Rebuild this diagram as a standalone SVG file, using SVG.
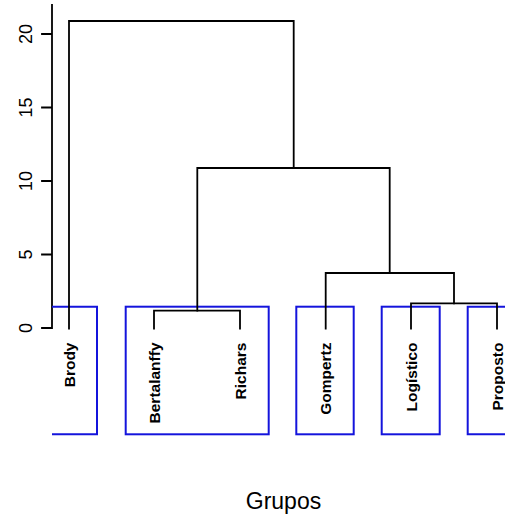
<svg xmlns="http://www.w3.org/2000/svg" width="505" height="517" viewBox="0 0 505 517">
<style>
.ln{stroke:#000;stroke-width:1.8;fill:none;stroke-linecap:square}
.bx{stroke:#1414dc;stroke-width:2;fill:none}
.lab{font-family:"Liberation Sans",Arial,sans-serif;font-weight:bold;font-size:15.5px;fill:#000;text-anchor:end}
.tk{font-family:"Liberation Sans",Arial,sans-serif;font-size:18px;fill:#000;text-anchor:middle}
.xl{font-family:"Liberation Sans",Arial,sans-serif;font-size:23px;fill:#000;text-anchor:middle}
</style>
<rect width="505" height="517" fill="#fff"/>
<g id="axis">
<path class="ln" d="M52 5V328M42 34H52M42 107.5H52M42 181H52M42 254.5H52M42 328H52"/>
<text class="tk" transform="translate(31.5,34) rotate(-90)">20</text>
<text class="tk" transform="translate(31.5,107.5) rotate(-90)">15</text>
<text class="tk" transform="translate(31.5,181) rotate(-90)">10</text>
<text class="tk" transform="translate(31.5,254.5) rotate(-90)">5</text>
<text class="tk" transform="translate(31.5,328) rotate(-90)">0</text>
</g>
<g id="boxes">
<path class="bx" d="M52 306.7H97V434.3H52"/>
<rect class="bx" x="125.7" y="306.7" width="143" height="127.6"/>
<rect class="bx" x="296.3" y="306.7" width="57.4" height="127.6"/>
<rect class="bx" x="381.7" y="306.7" width="58" height="127.6"/>
<path class="bx" d="M506 306.7H467.7V434.3H506"/>
</g>
<g id="connectors">
<path class="ln" d="M69 328.5V21H293.7V168"/>
<path class="ln" d="M197.3 310.7V168H389.7V273"/>
<path class="ln" d="M154 328.5V310.7H240V328.5"/>
<path class="ln" d="M325.7 328.5V273H454V303.3"/>
<path class="ln" d="M411 328.5V303.3H497V328.5"/>
</g>
<g id="leaf-brody"><text class="lab" transform="translate(74.5,342.5) rotate(-90)">Brody</text></g>
<g id="leaf-bertalanffy"><text class="lab" transform="translate(159.5,342.5) rotate(-90)">Bertalanffy</text></g>
<g id="leaf-richars"><text class="lab" transform="translate(245.5,342.5) rotate(-90)">Richars</text></g>
<g id="leaf-gompertz"><text class="lab" transform="translate(331.2,342.5) rotate(-90)">Gompertz</text></g>
<g id="leaf-logistico"><text class="lab" transform="translate(416.5,342.5) rotate(-90)">Logístico</text></g>
<g id="leaf-proposto"><text class="lab" transform="translate(502.5,342.5) rotate(-90)">Proposto</text></g>
<text class="xl" x="283.5" y="509">Grupos</text>
</svg>
